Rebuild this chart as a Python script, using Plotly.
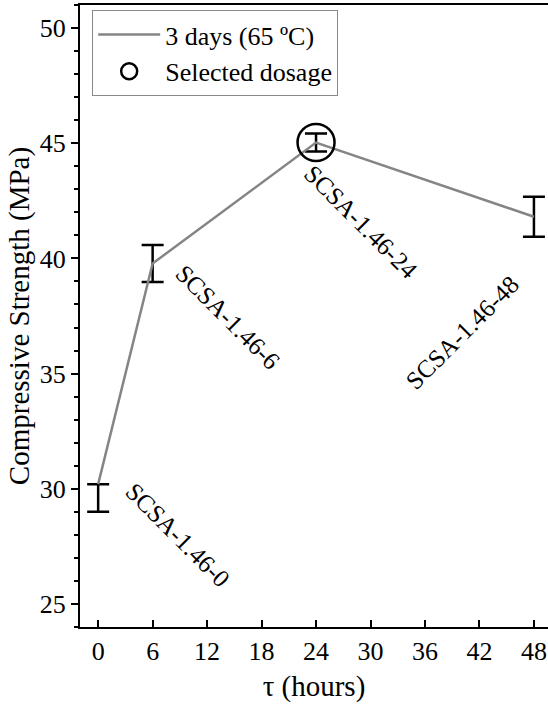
import plotly.graph_objects as go

# ---- data ----
hours = [0, 6, 24, 48]
strength = [30.2, 39.78, 45.03, 41.81]
err_plus = [0.0, 0.8, 0.39, 0.87]
err_minus = [1.2, 0.8, 0.39, 0.87]
sample_labels = ["SCSA-1.46-0", "SCSA-1.46-6", "SCSA-1.46-24", "SCSA-1.46-48"]
selected_hours = [24]
selected_strength = [45.03]
x_ticks = [0, 6, 12, 18, 24, 30, 36, 42, 48]
y_ticks = [25, 30, 35, 40, 45, 50]

# label placement (layout)
label_x = [8.7, 14.2, 28.9, 40.1]
label_y = [28.0, 37.46, 41.6, 36.8]
label_angle = [45, 45, 45, -45]

FONT = "Liberation Serif, Times New Roman, serif"

fig = go.Figure()
fig.add_trace(go.Scatter(
    x=hours, y=strength, mode="lines", name="3 days (65 ºC)",
    line=dict(color="#858585", width=2.5),
    error_y=dict(type="data", symmetric=False, array=err_plus, arrayminus=err_minus,
                 color="black", thickness=2.5, width=11),
))
fig.add_trace(go.Scatter(
    x=selected_hours, y=selected_strength, mode="markers", name="Selected dosage",
    marker=dict(symbol="circle-open", size=37, color="black", line=dict(width=2.5, color="black")),
))

for lx, ly, ang, txt in zip(label_x, label_y, label_angle, sample_labels):
    fig.add_annotation(x=lx, y=ly, text=txt, textangle=ang, showarrow=False,
                       xanchor="center", yanchor="middle",
                       font=dict(family=FONT, size=25, color="black"))

fig.update_layout(
    width=548, height=708,
    margin=dict(l=80, r=0, t=5, b=81, autoexpand=False),
    paper_bgcolor="white", plot_bgcolor="white",
    font=dict(family=FONT, size=26, color="black"),
    showlegend=True,
    legend=dict(x=0.026, y=0.992, xanchor="left", yanchor="top",
                bgcolor="white", bordercolor="#8a8a8a", borderwidth=1,
                font=dict(family=FONT, size=26, color="black"),
                itemwidth=62, tracegroupgap=0),
)
fig.update_xaxes(
    range=[-2, 49.55], tickvals=x_ticks, ticktext=[str(v) for v in x_ticks],
    ticks="inside", ticklen=7, tickwidth=2, tickcolor="black",
    showline=True, linecolor="black", linewidth=2, mirror=True,
    showgrid=False, zeroline=False, automargin=False,
    title=dict(text="τ (hours)", font=dict(family=FONT, size=29), standoff=10),
    tickfont=dict(family=FONT, size=26),
)
fig.update_yaxes(
    range=[24, 51], tickvals=y_ticks,
    ticks="outside", ticklen=7, tickwidth=2, tickcolor="black",
    minor=dict(dtick=1, ticks="outside", ticklen=4, tickwidth=1.5, tickcolor="black", showgrid=False),
    showline=True, linecolor="black", linewidth=2, mirror=False,
    showgrid=False, zeroline=False, automargin=False,
    title=dict(text="Compressive Strength (MPa)", font=dict(family=FONT, size=29), standoff=2),
    tickfont=dict(family=FONT, size=26),
)

fig.write_html("out.html", config={"displayModeBar": False},
               post_script="document.body.style.margin='0';document.body.style.padding='0';")
